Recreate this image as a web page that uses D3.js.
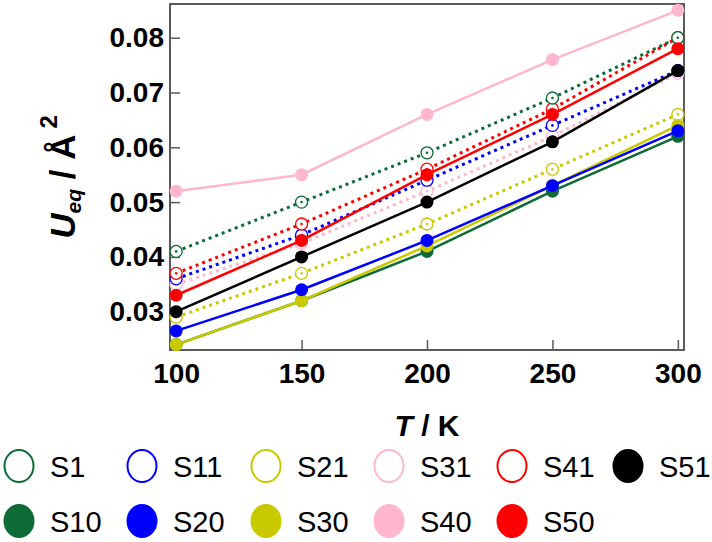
<!DOCTYPE html>
<html lang='en'>
  <head>
    <style type='text/css'>
      body {margin: 0; background-color: #fff;}
      svg text {font-family: Arial, "Liberation Sans", sans-serif;}
    </style>
  </head>
  <body>
    <svg id='chart' width='712' height='542'></svg>

    <script src='https://d3js.org/d3.v7.min.js'></script>
    <script type='text/javascript'>
        // temperatures (K)
        var temps = [100, 150, 200, 250, 300];

        // Ueq values per sample
        var s1  = [0.041, 0.050, 0.059, 0.069, 0.080];
        var s11 = [0.036, 0.044, 0.054, 0.064, 0.074];
        var s21 = [0.029, 0.037, 0.046, 0.056, 0.066];
        var s31 = [0.035, 0.0425, 0.052, 0.062, 0.0735];
        var s41 = [0.037, 0.046, 0.056, 0.067, 0.080];
        var s51 = [0.030, 0.040, 0.050, 0.061, 0.074];
        var s10 = [0.024, 0.032, 0.041, 0.052, 0.062];
        var s20 = [0.0265, 0.034, 0.043, 0.053, 0.063];
        var s30 = [0.024, 0.032, 0.042, 0.053, 0.064];
        var s40 = [0.052, 0.055, 0.066, 0.076, 0.085];
        var s50 = [0.033, 0.043, 0.055, 0.066, 0.078];

        var xTicks = [100, 150, 200, 250, 300];
        var yTicks = [0.03, 0.04, 0.05, 0.06, 0.07, 0.08];

        var green = "#0d6b36", blue = "#0000ff", yellow = "#c9c900",
            pink = "#ffb7cf", red = "#ff0000", black = "#000000";

        // draw order: dotted (open) first, then solid (filled)
        var series = [
          {name: "S31", vals: s31, color: pink,   open: true},
          {name: "S21", vals: s21, color: yellow, open: true},
          {name: "S11", vals: s11, color: blue,   open: true},
          {name: "S41", vals: s41, color: red,    open: true},
          {name: "S1",  vals: s1,  color: green,  open: true},
          {name: "S40", vals: s40, color: pink,   open: false},
          {name: "S10", vals: s10, color: green,  open: false},
          {name: "S30", vals: s30, color: yellow, open: false},
          {name: "S20", vals: s20, color: blue,   open: false},
          {name: "S51", vals: s51, color: black,  open: false},
          {name: "S50", vals: s50, color: red,    open: false}
        ];

        var legendRows = [
          [{name: "S1", color: green, open: true}, {name: "S11", color: blue, open: true},
           {name: "S21", color: yellow, open: true}, {name: "S31", color: pink, open: true},
           {name: "S41", color: red, open: true}, {name: "S51", color: black, open: false}],
          [{name: "S10", color: green, open: false}, {name: "S20", color: blue, open: false},
           {name: "S30", color: yellow, open: false}, {name: "S40", color: pink, open: false},
           {name: "S50", color: red, open: false}]
        ];
        var legendX = [19, 142, 266, 389, 512, 628];
        var legendY = [466, 521];

        var svg = d3.select("#chart");
        var pLeft = 170, pRight = 684, pTop = 4, pBottom = 350;

        var x = d3.scaleLinear().domain([97.55, 302.45]).range([pLeft, pRight]);
        var y = d3.scaleLinear().domain([0.02301, 0.08615]).range([pBottom, pTop]);

        var axisColor = "#5a5a5a";

        // axes with inward ticks
        var xAxis = svg.append("g")
            .attr("transform", "translate(0," + pBottom + ")")
            .call(d3.axisBottom(x).tickValues(xTicks).tickSizeInner(-10).tickSizeOuter(0).tickPadding(14));
        var yAxis = svg.append("g")
            .attr("transform", "translate(" + pLeft + ",0)")
            .call(d3.axisLeft(y).tickValues(yTicks).tickSizeInner(-10).tickSizeOuter(0).tickPadding(6)
              .tickFormat(d3.format(".2f")));

        [xAxis, yAxis].forEach(function(a) {
          a.select(".domain").remove();
          a.selectAll(".tick line").style("stroke", axisColor).style("stroke-width", 1.5);
          a.selectAll(".tick text")
            .style("font-size", "28px").style("font-weight", "bold")
            .style("fill", "#000").style("font-family", "Arial, 'Liberation Sans', sans-serif");
        });
        xAxis.selectAll(".tick text").attr("dy", "0.71em").attr("y", 13);

        // frame
        svg.append("rect")
            .attr("x", pLeft).attr("y", pTop)
            .attr("width", pRight - pLeft).attr("height", pBottom - pTop)
            .style("fill", "none").style("stroke", axisColor).style("stroke-width", 2);

        // lines and markers
        var line = d3.line()
            .x(function(d, i) { return x(temps[i]); })
            .y(function(d) { return y(d); });

        series.forEach(function(s) {
          var g = svg.append("g");
          g.append("path")
              .datum(s.vals)
              .attr("d", line)
              .style("fill", "none")
              .style("stroke", s.color)
              .style("stroke-width", s.open ? 3 : 2.5)
              .style("stroke-dasharray", s.open ? "3,4" : null);
          if (s.open) {
            g.selectAll("circle.m").data(s.vals).enter().append("circle")
                .attr("class", "m")
                .attr("cx", function(d, i) { return x(temps[i]); })
                .attr("cy", function(d) { return y(d); })
                .attr("r", 6)
                .style("fill", "#fff").style("stroke", s.color).style("stroke-width", 1.3);
            g.selectAll("circle.c").data(s.vals).enter().append("circle")
                .attr("class", "c")
                .attr("cx", function(d, i) { return x(temps[i]); })
                .attr("cy", function(d) { return y(d); })
                .attr("r", 1.3)
                .style("fill", s.color);
          } else {
            g.selectAll("circle").data(s.vals).enter().append("circle")
                .attr("cx", function(d, i) { return x(temps[i]); })
                .attr("cy", function(d) { return y(d); })
                .attr("r", 6.5)
                .style("fill", s.color);
          }
        });

        // axis titles
        var xt = svg.append("text")
            .attr("x", (pLeft + pRight) / 2).attr("y", 436)
            .style("text-anchor", "middle")
            .style("font-size", "30px").style("font-weight", "bold");
        xt.append("tspan").style("font-style", "italic").text("T");
        xt.append("tspan").text(" / K");

        var yt = svg.append("text")
            .attr("transform", "translate(75," + ((pTop + pBottom) / 2) + ") rotate(-90)")
            .style("text-anchor", "middle")
            .style("font-size", "35px").style("font-weight", "bold");
        yt.append("tspan").style("font-style", "italic").text("U");
        yt.append("tspan").style("font-style", "italic").style("font-size", "21px").attr("dy", 6).text("eq");
        yt.append("tspan").attr("dy", -6).text(" / Å");
        yt.append("tspan").style("font-size", "24px").attr("dy", -18).attr("dx", 6).text("2");

        // legend
        legendRows.forEach(function(row, r) {
          var lg = svg.append("g").selectAll("g").data(row).enter().append("g")
              .attr("transform", function(d, i) { return "translate(" + legendX[i] + "," + legendY[r] + ")"; });
          lg.append("ellipse")
              .attr("rx", function(d) { return d.open ? 14.5 : 15.5; })
              .attr("ry", function(d) { return d.open ? 16 : 17; })
              .style("fill", function(d) { return d.open ? "#fff" : d.color; })
              .style("stroke", function(d) { return d.open ? d.color : "none"; })
              .style("stroke-width", 2);
          lg.append("text")
              .attr("x", 31).attr("y", 10.5)
              .style("font-size", "29px")
              .style("fill", "#000")
              .text(function(d) { return d.name; });
        });
    </script>
  </body>
</html>
